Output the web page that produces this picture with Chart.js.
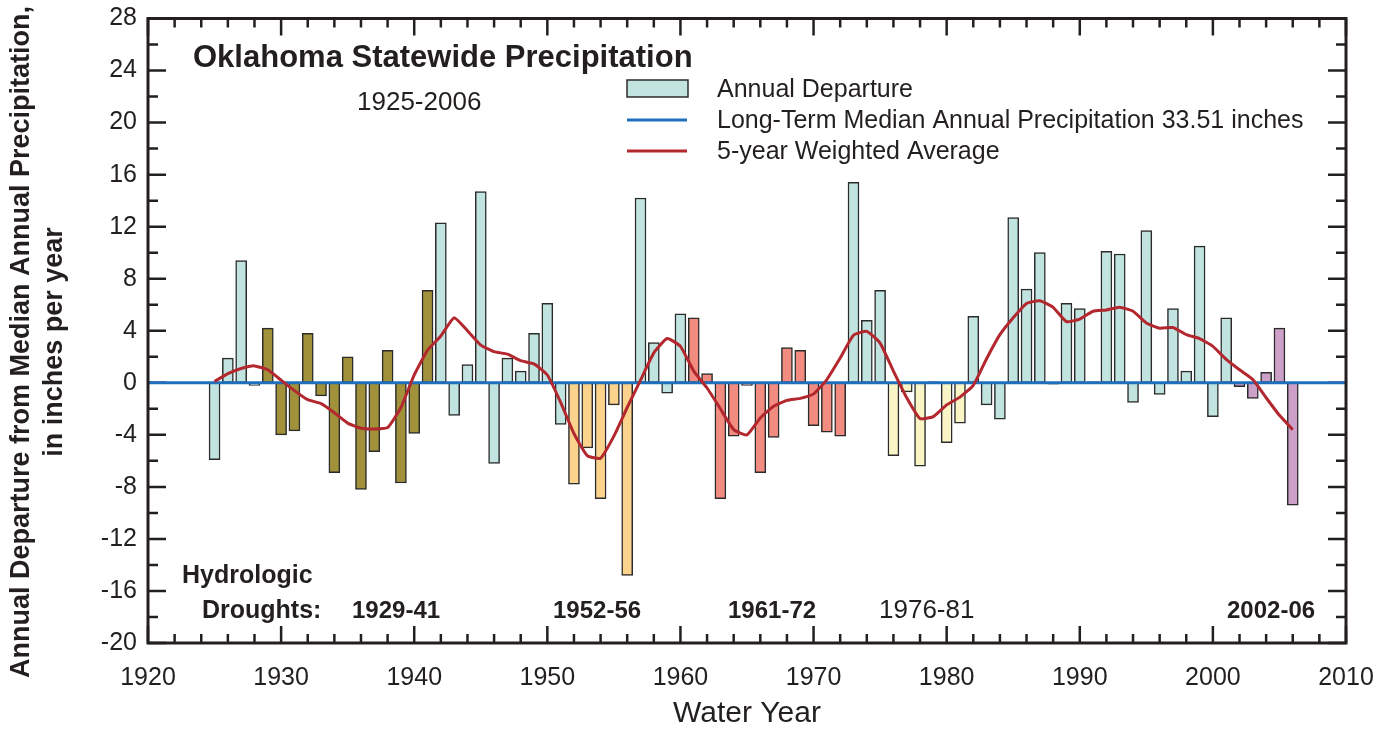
<!DOCTYPE html>
<html>
<head>
<meta charset="utf-8">
<script src="https://cdn.jsdelivr.net/npm/chart.js@4.4.1/dist/chart.umd.min.js"></script>
<style>
  body { margin: 0; background: #fff; }
  canvas { display: block; }
</style>
</head>
<body>
<canvas id="grafico" width="1394" height="734"></canvas>
<script>
// Años hidrológicos
const years = [
    1925, 1926, 1927, 1928, 1929, 1930, 1931, 1932, 1933, 1934,
    1935, 1936, 1937, 1938, 1939, 1940, 1941, 1942, 1943, 1944,
    1945, 1946, 1947, 1948, 1949, 1950, 1951, 1952, 1953, 1954,
    1955, 1956, 1957, 1958, 1959, 1960, 1961, 1962, 1963, 1964,
    1965, 1966, 1967, 1968, 1969, 1970, 1971, 1972, 1973, 1974,
    1975, 1976, 1977, 1978, 1979, 1980, 1981, 1982, 1983, 1984,
    1985, 1986, 1987, 1988, 1989, 1990, 1991, 1992, 1993, 1994,
    1995, 1996, 1997, 1998, 1999, 2000, 2001, 2002, 2003, 2004,
    2005, 2006
];

// Desviación anual respecto a la mediana (pulgadas)
const departure = [
    -5.9, 1.9, 9.4, -0.2, 4.2, -4.0, -3.7, 3.8, -1.0, -6.9,
    2.0, -8.2, -5.3, 2.5, -7.7, -3.9, 7.1, 12.3, -2.5, 1.4,
    14.7, -6.2, 1.9, 0.9, 3.8, 6.1, -3.2, -7.8, -5.0, -8.9,
    -1.7, -14.8, 14.2, 3.1, -0.8, 5.3, 5.0, 0.7, -8.9, -4.1,
    -0.2, -6.9, -4.2, 2.7, 2.5, -3.3, -3.8, -4.1, 15.4, 4.8,
    7.1, -5.6, -0.7, -6.4, 0.1, -4.6, -3.1, 5.1, -1.7, -2.8,
    12.7, 7.2, 10.0, -0.1, 6.1, 5.7, 0.1, 10.1, 9.9, -1.5,
    11.7, -0.9, 5.7, 0.9, 10.5, -2.6, 5.0, -0.3, -1.2, 0.8,
    4.2, -9.4
];

// Promedio ponderado de 5 años
const weightedAvg = [
    0.1, 0.7, 1.1, 1.3, 1.0, 0.2, -0.6, -1.3, -1.6, -2.3,
    -3.1, -3.5, -3.55, -3.45, -1.9, 0.6, 2.5, 3.6, 5.0, 4.0,
    2.9, 2.4, 2.2, 1.7, 1.45, 0.6, -1.5, -3.9, -5.6, -5.8,
    -4.1, -1.9, 0.2, 2.3, 3.4, 2.8, 0.9, -0.4, -2.0, -3.6,
    -4.0, -2.7, -1.8, -1.35, -1.2, -0.85, 0.25, 1.9, 3.65, 3.95,
    3.05, 0.9, -1.15, -2.75, -2.6, -1.7, -1.1, -0.2, 1.85, 3.7,
    5.0, 6.1, 6.3, 5.8, 4.7, 4.9, 5.5, 5.6, 5.8, 5.5,
    4.6, 4.2, 4.25, 3.7, 3.4, 2.8, 1.8, 1.0, 0.25, -1.15,
    -2.5, -3.6
];

// Mediana de largo plazo (desviación cero)
const medianYears = [1920, 2010];
const medianValues = [0, 0];

// Sequías hidrológicas
const droughtLabels = ['1929-41', '1952-56', '1961-72', '1976-81', '2002-06'];
const droughtStart = [1929, 1952, 1961, 1976, 2002];
const droughtEnd = [1941, 1956, 1972, 1981, 2006];

const colorBase = '#c2e4e1';
const coloresSequia = ['#a0913a', '#fcd38d', '#f28c80', '#faf5c6', '#cca0c8'];
const tinta = '#231f20';
const fuente = "'Liberation Sans', Arial, sans-serif";

const coloresBarras = years.map(yr => {
    const i = droughtStart.findIndex((s, k) => yr >= s && yr <= droughtEnd[k]);
    return i >= 0 ? coloresSequia[i] : colorBase;
});

// Marco, marcas interiores y textos
const marco = {
    id: 'marco',
    beforeDatasetsDraw(chart) {
        // marcas interiores (debajo de las series)
        const { ctx, chartArea: a, scales: { x, y } } = chart;
        ctx.save();
        ctx.strokeStyle = tinta;
        ctx.lineWidth = 2.5;
        ctx.beginPath();
        for (let v = 1920; v <= 2010; v += 2) {
            const px = x.getPixelForValue(v);
            const len = v % 10 === 0 ? 17 : 9;
            ctx.moveTo(px, a.bottom); ctx.lineTo(px, a.bottom - len);
            ctx.moveTo(px, a.top); ctx.lineTo(px, a.top + len);
        }
        for (let v = -20; v <= 28; v += 2) {
            const py = y.getPixelForValue(v);
            const len = v % 4 === 0 ? 18 : 10;
            ctx.moveTo(a.left, py); ctx.lineTo(a.left + len, py);
            ctx.moveTo(a.right, py); ctx.lineTo(a.right - len, py);
        }
        ctx.stroke();
        ctx.restore();
    },
    afterDraw(chart) {
        const { ctx, chartArea: a } = chart;
        ctx.save();
        ctx.strokeStyle = tinta;
        ctx.lineWidth = 3;
        ctx.strokeRect(a.left, a.top, a.width, a.height);

        ctx.fillStyle = tinta;
        ctx.textBaseline = 'alphabetic';
        ctx.textAlign = 'left';

        // Título
        ctx.font = 'bold 31px ' + fuente;
        ctx.fillText('Oklahoma Statewide Precipitation', 193, 67);
        ctx.font = '26px ' + fuente;
        ctx.fillText('1925-2006', 357, 110);

        // Leyenda
        ctx.fillStyle = colorBase;
        ctx.fillRect(627, 80, 61, 17);
        ctx.lineWidth = 1.5;
        ctx.strokeStyle = '#2b2b2b';
        ctx.strokeRect(627, 80, 61, 17);
        ctx.lineWidth = 3;
        ctx.strokeStyle = '#1f6fbd';
        ctx.beginPath(); ctx.moveTo(627, 120); ctx.lineTo(687, 120); ctx.stroke();
        ctx.strokeStyle = '#b3272e';
        ctx.beginPath(); ctx.moveTo(627, 151); ctx.lineTo(687, 151); ctx.stroke();
        ctx.fillStyle = tinta;
        ctx.font = '25px ' + fuente;
        ctx.fillText('Annual Departure', 717, 97);
        ctx.fillText('Long-Term Median Annual Precipitation 33.51 inches', 717, 128);
        ctx.fillText('5-year Weighted Average', 717, 159);

        // Sequías
        ctx.font = 'bold 25px ' + fuente;
        ctx.fillText('Hydrologic', 182, 583);
        ctx.fillText('Droughts:', 202, 618);
        const posX = [352, 553, 728, 879, 1227];
        droughtLabels.forEach((t, i) => {
            ctx.font = (i === 3 ? '26px ' : 'bold 24px ') + fuente;
            ctx.fillText(t, posX[i], 618);
        });

        // Títulos de ejes
        ctx.textAlign = 'center';
        ctx.textBaseline = 'middle';
        ctx.font = '30px ' + fuente;
        ctx.fillText('Water Year', (a.left + a.right) / 2, 714);
        ctx.save();
        ctx.translate(22, 342);
        ctx.rotate(-Math.PI / 2);
        ctx.font = 'bold 27px ' + fuente;
        ctx.fillText('Annual Departure from Median Annual Precipitation,', 0, 0);
        ctx.fillText('in inches per year', 0, 33);
        ctx.restore();
        ctx.restore();
    }
};

const ctx = document.getElementById('grafico').getContext('2d');

new Chart(ctx, {
    type: 'bar',
    data: {
        datasets: [
            {
                type: 'line',
                label: '5-year Weighted Average',
                data: years.map((yr, i) => ({ x: yr, y: weightedAvg[i] })),
                borderColor: '#b3272e',
                borderWidth: 3,
                pointRadius: 0,
                tension: 0.15,
                order: 1
            },
            {
                type: 'line',
                label: 'Long-Term Median Annual Precipitation 33.51 inches',
                data: medianYears.map((yr, i) => ({ x: yr, y: medianValues[i] })),
                borderColor: '#1f6fbd',
                borderWidth: 3,
                pointRadius: 0,
                order: 2
            },
            {
                type: 'bar',
                label: 'Annual Departure',
                data: years.map((yr, i) => ({ x: yr, y: departure[i] })),
                backgroundColor: coloresBarras,
                borderColor: '#2b2b2b',
                borderWidth: 1.5,
                borderSkipped: false,
                barThickness: 11,
                order: 3
            }
        ]
    },
    options: {
        responsive: false,
        animation: false,
        layout: { padding: { top: 15, right: 48, left: 0, bottom: 0 } },
        plugins: {
            legend: { display: false },
            tooltip: { enabled: false }
        },
        scales: {
            x: {
                type: 'linear',
                min: 1920,
                max: 2010,
                offset: false,
                grid: { display: false, drawTicks: false, offset: false },
                border: { display: false },
                ticks: {
                    stepSize: 10,
                    autoSkip: false,
                    maxRotation: 0,
                    padding: 20,
                    color: tinta,
                    font: { family: fuente, size: 25 },
                    callback: v => String(v)
                },
                afterFit: s => { s.height = 91; }
            },
            y: {
                min: -20,
                max: 28,
                grid: { display: false, drawTicks: false },
                border: { display: false },
                ticks: {
                    stepSize: 4,
                    autoSkip: false,
                    padding: 11,
                    color: tinta,
                    font: { family: fuente, size: 25, lineHeight: 0.6 }
                },
                afterFit: s => { s.width = 148; }
            }
        }
    },
    plugins: [marco]
});
</script>
</body>
</html>
